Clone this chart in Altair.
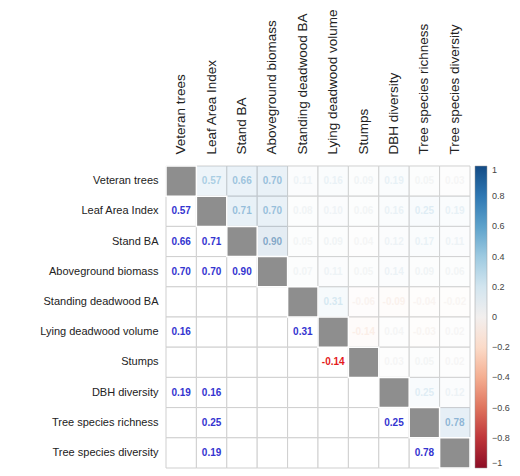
import altair as alt
import pandas as pd

variables = [
    "Veteran trees", "Leaf Area Index", "Stand BA", "Aboveground biomass",
    "Standing deadwood BA", "Lying deadwood volume", "Stumps", "DBH diversity",
    "Tree species richness", "Tree species diversity",
]

# Pairwise correlations, row by row above the diagonal (row i with columns i+1..)
corr_rows = [
    [0.57, 0.66, 0.70, 0.11, 0.16, 0.09, 0.19, 0.05, 0.03],
    [0.71, 0.70, 0.08, 0.10, 0.06, 0.16, 0.25, 0.19],
    [0.90, 0.05, 0.09, 0.04, 0.12, 0.17, 0.11],
    [0.07, 0.11, 0.05, 0.14, 0.09, 0.06],
    [0.31, -0.06, -0.09, -0.04, -0.02],
    [-0.14, 0.04, -0.03, 0.02],
    [0.03, 0.05, 0.02],
    [0.25, 0.12],
    [0.78],
]

# Pairs whose correlation is significant (printed below the diagonal)
significant = [
    ("Veteran trees", "Leaf Area Index"),
    ("Veteran trees", "Stand BA"),
    ("Veteran trees", "Aboveground biomass"),
    ("Veteran trees", "Lying deadwood volume"),
    ("Veteran trees", "DBH diversity"),
    ("Leaf Area Index", "Stand BA"),
    ("Leaf Area Index", "Aboveground biomass"),
    ("Leaf Area Index", "DBH diversity"),
    ("Leaf Area Index", "Tree species richness"),
    ("Leaf Area Index", "Tree species diversity"),
    ("Stand BA", "Aboveground biomass"),
    ("Standing deadwood BA", "Lying deadwood volume"),
    ("Lying deadwood volume", "Stumps"),
    ("DBH diversity", "Tree species richness"),
    ("Tree species richness", "Tree species diversity"),
]

colorbar_ticks = [1, 0.8, 0.6, 0.4, 0.2, 0, -0.2, -0.4, -0.6, -0.8, -1]

cells, upper, lower, diag = [], [], [], []
for i, a in enumerate(variables):
    for j, b in enumerate(variables):
        cells.append({"row": a, "col": b})
    diag.append({"row": a, "col": a})
    for k, r in enumerate(corr_rows[i] if i < len(corr_rows) else []):
        b = variables[i + 1 + k]
        upper.append({"row": a, "col": b, "r": r, "label": f"{r:.2f}"})
        if (a, b) in significant:
            lower.append({"row": b, "col": a, "r": r, "label": f"{r:.2f}"})

cells_df = pd.DataFrame(cells)
upper_df = pd.DataFrame(upper)
lower_df = pd.DataFrame(lower)
diag_df = pd.DataFrame(diag)

FONT = "Liberation Sans"

x_enc = alt.X(
    "col:N", sort=variables, title=None,
    scale=alt.Scale(paddingInner=0, paddingOuter=0),
    axis=alt.Axis(orient="top", labelAngle=-90, labelFontSize=13.5, labelPadding=12,
                  labelColor="#222222", domain=False, ticks=False, labelFont=FONT),
)
y_enc = alt.Y(
    "row:N", sort=variables, title=None,
    scale=alt.Scale(paddingInner=0, paddingOuter=0),
    axis=alt.Axis(labelFontSize=11, labelPadding=8, labelColor="#222222",
                  domain=False, ticks=False, labelFont=FONT),
)

color_scale = alt.Scale(scheme="redblue", domain=[-1, 1])

grid = alt.Chart(cells_df).mark_rect(fill="white", stroke="#cfcfcf", strokeWidth=1).encode(
    x=x_enc, y=y_enc
)

tint = alt.Chart(upper_df).mark_rect(fillOpacity=0.12, strokeOpacity=0).encode(
    x=x_enc, y=y_enc,
    color=alt.Color(
        "r:Q", scale=color_scale,
        legend=alt.Legend(
            orient="none", legendX=309, legendY=0, direction="vertical",
            gradientLength=302, gradientThickness=12, title=None,
            values=colorbar_ticks, format="~g",
            labelFontSize=9, labelColor="#444444", labelFont=FONT, labelOffset=5,
            labelOverlap=False, gradientStrokeColor="#999999", gradientStrokeWidth=0.5,
            padding=0,
        ),
    ),
)

diagonal = alt.Chart(diag_df).mark_rect(fill="#8e8e8e", stroke="white", strokeWidth=1.5).encode(
    x=x_enc, y=y_enc
)

upper_text = alt.Chart(upper_df).mark_text(
    fontSize=10, font=FONT, fontWeight="bold", fillOpacity=0.5
).encode(x=x_enc, y=y_enc, text="label:N", color=alt.Color("r:Q", scale=color_scale))

lower_text = alt.Chart(lower_df).mark_text(
    fontSize=10, font=FONT, fontWeight="bold"
).encode(
    x=x_enc, y=y_enc, text="label:N",
    color=alt.condition(alt.datum.r > 0, alt.value("#3434d0"), alt.value("#e41a1c")),
)

chart = (
    alt.layer(grid, tint, diagonal, upper_text, lower_text)
    .properties(
        width=304, height=302, autosize="none",
        padding={"left": 166, "top": 166, "right": 50, "bottom": 8},
        background="white",
    )
    .configure_view(stroke=None)
)

chart.save("out.html", embed_options={"renderer": "svg", "actions": False})
